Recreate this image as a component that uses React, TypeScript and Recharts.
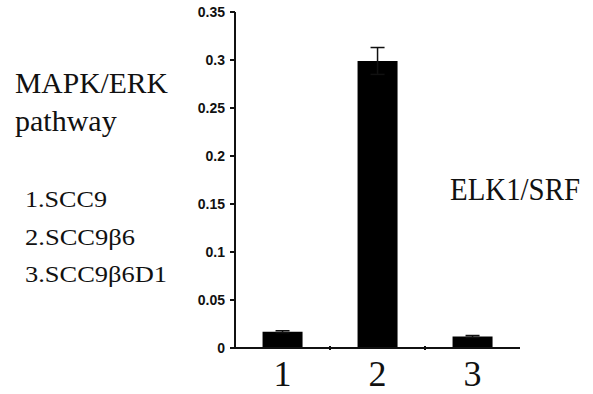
import React from 'react';
import { BarChart, Bar, XAxis, YAxis, ErrorBar } from 'recharts';

// ELK1/SRF reporter activity
const categories = ['1', '2', '3'];
const activity = [0.017, 0.299, 0.012];
const errors = [0.001, 0.014, 0.001];
const yTicks = [0, 0.05, 0.1, 0.15, 0.2, 0.25, 0.3, 0.35];
const legendLines = ['1.SCC9', '2.SCC9β6', '3.SCC9β6D1'];
const legendWidths = [82, 110, 142];

const data = categories.map((name, i) => ({
  name,
  value: activity[i],
  err: errors[i],
}));

const serif = '"Liberation Serif", "DejaVu Serif", "Times New Roman", serif';
const sans = '"Liberation Sans", Arial, sans-serif';

const PLOT_LEFT = 235;
const PLOT_RIGHT = 520;
const BAND = (PLOT_RIGHT - PLOT_LEFT) / categories.length;

function formatTick(v: number): string {
  return v === 0 ? '0' : String(Number(v.toFixed(2)));
}

function CategoryTick(props: any) {
  const { x, y, payload, index } = props;
  return (
    <g>
      <text
        x={x}
        y={y + 30}
        textAnchor="middle"
        style={{ fontFamily: serif, fontSize: 36 }}
        fill="#111"
      >
        {payload.value}
      </text>
      {index < categories.length - 1 && (
        <line
          x1={x + BAND / 2}
          x2={x + BAND / 2}
          y1={y - 10}
          y2={y - 6}
          stroke="#111"
          strokeWidth={2}
        />
      )}
    </g>
  );
}

export default function App() {
  return (
    <div
      style={{
        position: 'absolute',
        left: 0,
        top: 0,
        width: 593,
        height: 394,
        background: '#fff',
      }}
    >
      <BarChart
        width={593}
        height={394}
        data={data}
        margin={{ top: 12, right: 593 - PLOT_RIGHT, left: PLOT_LEFT - 60, bottom: 6 }}
        barCategoryGap="29%"
      >
        <XAxis
          dataKey="name"
          height={40}
          tick={<CategoryTick />}
          tickLine={false}
          axisLine={{ stroke: '#111', strokeWidth: 2 }}
        />
        <YAxis
          width={60}
          domain={[0, 0.35]}
          ticks={yTicks}
          tickFormatter={formatTick}
          tickSize={5}
          tickMargin={5}
          tick={{ fontSize: 14, fontWeight: 'bold', fill: '#111', fontFamily: sans }}
          tickLine={{ stroke: '#111', strokeWidth: 2 }}
          axisLine={{ stroke: '#111', strokeWidth: 2 }}
        />
        <Bar dataKey="value" fill="#000" isAnimationActive={false}>
          <ErrorBar dataKey="err" width={7} stroke="#111" strokeWidth={1.5} />
        </Bar>
      </BarChart>

      <svg
        width={593}
        height={394}
        style={{ position: 'absolute', left: 0, top: 0, pointerEvents: 'none' }}
      >
        <g style={{ fontFamily: serif }} fill="#111">
          <text x={15} y={93} fontSize={30} textLength={153} lengthAdjust="spacingAndGlyphs">
            MAPK/ERK
          </text>
          <text x={15} y={131} fontSize={30}>
            pathway
          </text>
          {legendLines.map((line, i) => (
            <text
              key={line}
              x={25}
              y={207 + i * 37.5}
              fontSize={24}
              textLength={legendWidths[i]}
              lengthAdjust="spacingAndGlyphs"
            >
              {line}
            </text>
          ))}
          <text x={450} y={200} fontSize={31} textLength={130} lengthAdjust="spacingAndGlyphs">
            ELK1/SRF
          </text>
        </g>
      </svg>
    </div>
  );
}
